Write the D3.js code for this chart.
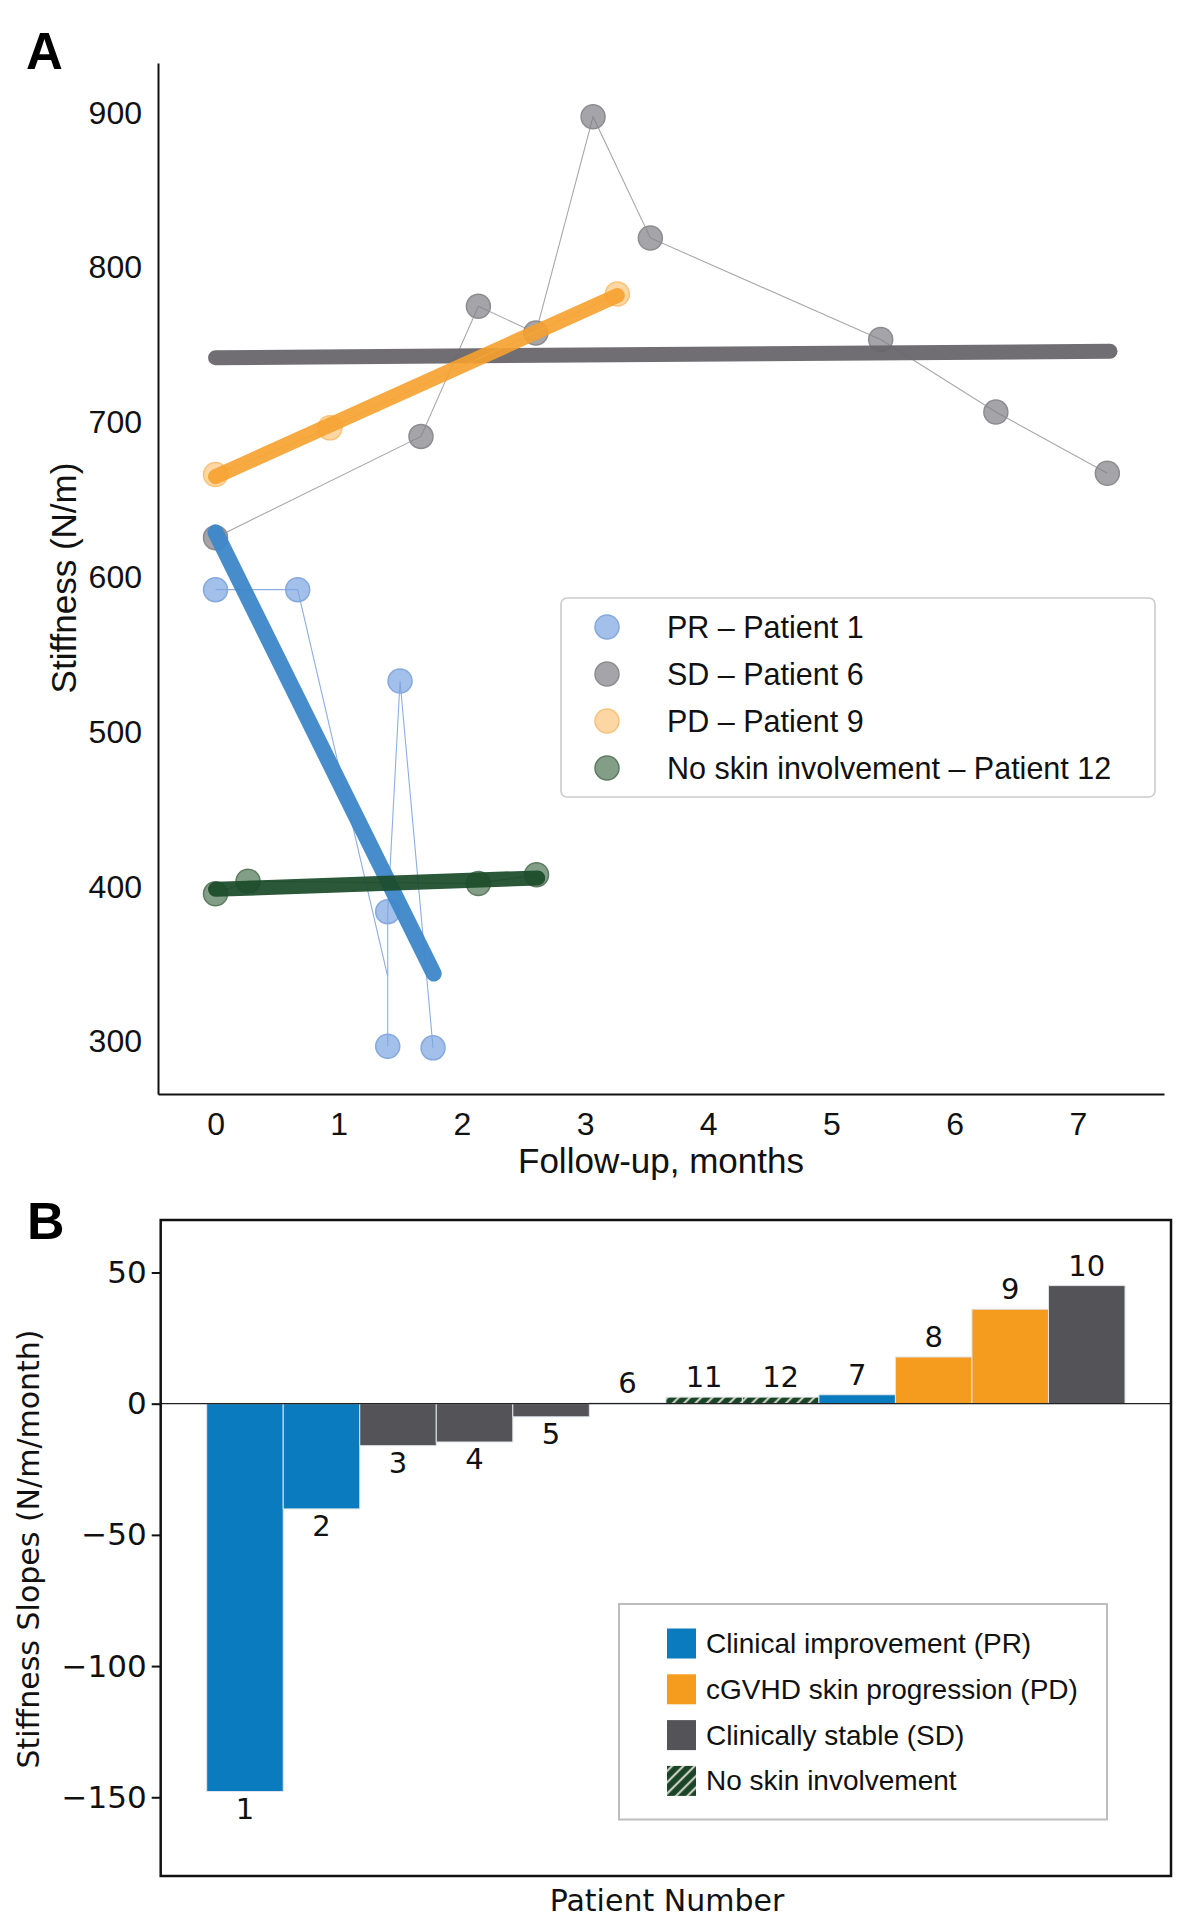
<!DOCTYPE html>
<html>
<head>
<meta charset="utf-8">
<script src="https://cdn.jsdelivr.net/npm/d3@7"></script>
<style>
  body { margin: 0; background: #fff; }
  svg { display: block; }
</style>
</head>
<body>
<div id="root"></div>
<script>
//-----------------------------------------------------------------------
// panel A data (follow-up months / stiffness N/m)

const prMonths = [0, 0.667, 1.398, 1.398, 1.498, 1.766];
const prValues = [592, 592, 297, 384, 533, 296];
// the thin PR line also passes through an unmarked reading
const prPathMonths = [0, 0.667, 1.398, 1.398, 1.398, 1.498, 1.766];
const prPathValues = [592, 592, 342, 297, 384, 533, 296];
const prFitMonths = [0, 1.771];
const prFitValues = [629, 344];

const sdMonths = [0, 1.668, 2.134, 2.6, 3.065, 3.53, 5.4, 6.335, 7.24];
const sdValues = [625.6, 691, 775, 757.8, 897.5, 819.2, 753.6, 706.7, 667.2];
const sdFitMonths = [0, 7.262];
const sdFitValues = [741.8, 746];

const pdMonths = [0, 0.929, 3.262];
const pdValues = [666.4, 696.5, 783];
const pdFitMonths = [0, 3.262];
const pdFitValues = [665, 782];

const nsMonths = [0, 0.264, 2.134, 2.606];
const nsValues = [395.5, 403.7, 402.2, 407.9];
const nsFitMonths = [0, 2.616];
const nsFitValues = [398.4, 405.8];

const yTicksA = [300, 400, 500, 600, 700, 800, 900];
const xTicksA = [0, 1, 2, 3, 4, 5, 6, 7];
const legendA = ['PR \u2013 Patient 1', 'SD \u2013 Patient 6', 'PD \u2013 Patient 9', 'No skin involvement \u2013 Patient 12'];

//-----------------------------------------------------------------------
// panel B data (slopes N/m/month)

const patients = ['1', '2', '3', '4', '5', '6', '11', '12', '7', '8', '9', '10'];
const slopes = [-147.8, -40.1, -16.0, -14.6, -5.0, 0.3, 2.5, 2.5, 3.4, 17.8, 36.0, 45.0];
const groups = ['PR', 'PR', 'SD', 'SD', 'SD', 'SD', 'NS', 'NS', 'PR', 'PD', 'PD', 'SD'];
const yTicksB = [-150, -100, -50, 0, 50];
const legendBGroups = ['PR', 'PD', 'SD', 'NS'];
const legendB = ['Clinical improvement (PR)', 'cGVHD skin progression (PD)', 'Clinically stable (SD)', 'No skin involvement'];

//-----------------------------------------------------------------------

const arial = "'Liberation Sans', Arial, Helvetica, sans-serif";
const dejavu = "'DejaVu Sans', sans-serif";

const barColor = { PR: '#0a7bbf', PD: '#f59c1f', SD: '#545358', NS: 'url(#hatch)' };

const svg = d3
  .select('#root')
  .append('svg')
  .attr('width', 1194)
  .attr('height', 1920);

const defs = svg.append('defs');
const hatch = defs.append('pattern')
  .attr('id', 'hatch')
  .attr('patternUnits', 'userSpaceOnUse')
  .attr('width', 8)
  .attr('height', 8)
  .attr('patternTransform', 'rotate(45)');
hatch.append('rect')
  .attr('width', 8)
  .attr('height', 8)
  .attr('fill', '#1a4427');
hatch.append('line')
  .attr('x1', 4).attr('y1', 0)
  .attr('x2', 4).attr('y2', 8)
  .attr('stroke', '#c9ccbf')
  .attr('stroke-width', 2.2);

//-----------------------------------------------------------------------
// PANEL A

const ax = { left: 158, right: 1164, top: 63, bottom: 1094 };

const xA = d3.scaleLinear()
  .domain([-0.467, 7.70])
  .range([ax.left, ax.right]);
const yA = d3.scaleLinear()
  .domain([266.2, 932.2])
  .range([ax.bottom, ax.top]);

svg.append('text')
  .attr('x', 26)
  .attr('y', 69)
  .attr('font-family', arial)
  .attr('font-weight', 'bold')
  .attr('font-size', 51)
  .text('A');

const yAxisA = svg.append('g')
  .attr('transform', `translate(${ax.left}, 0)`)
  .call(d3.axisLeft(yA).tickValues(yTicksA).tickSize(0).tickSizeOuter(0).tickPadding(16));
const xAxisA = svg.append('g')
  .attr('transform', `translate(0, ${ax.bottom})`)
  .call(d3.axisBottom(xA).tickValues(xTicksA).tickSize(0).tickSizeOuter(0).tickPadding(18));

[yAxisA, xAxisA].forEach((g) => {
  g.attr('font-family', arial).attr('font-size', 32);
  g.selectAll('text').attr('fill', '#111');
  g.select('.domain').attr('stroke', '#111').attr('stroke-width', 2);
});

svg.append('text')
  .attr('transform', 'translate(63, 578) rotate(-90)')
  .attr('text-anchor', 'middle')
  .attr('dominant-baseline', 'central')
  .attr('font-family', arial)
  .attr('font-size', 35)
  .attr('fill', '#111')
  .text('Stiffness (N/m)');

svg.append('text')
  .attr('x', 661)
  .attr('y', 1160)
  .attr('text-anchor', 'middle')
  .attr('dominant-baseline', 'central')
  .attr('font-family', arial)
  .attr('font-size', 35)
  .attr('fill', '#111')
  .text('Follow-up, months');

const lineA = d3.line()
  .x((d) => xA(d[0]))
  .y((d) => yA(d[1]));

const plotA = svg.append('g');

function drawPatient(pathM, pathV, ptM, ptV, fitM, fitV, st) {
  plotA.append('path')
    .datum(pathM.map((m, i) => [m, pathV[i]]))
    .attr('d', lineA)
    .attr('fill', 'none')
    .attr('stroke', st.thin)
    .attr('stroke-width', 1.1);
  plotA.append('g')
    .selectAll('circle')
    .data(ptM.map((m, i) => [m, ptV[i]]))
    .enter()
    .append('circle')
    .attr('cx', (d) => xA(d[0]))
    .attr('cy', (d) => yA(d[1]))
    .attr('r', 12)
    .attr('fill', st.point)
    .attr('fill-opacity', 0.7)
    .attr('stroke', st.edge)
    .attr('stroke-width', 1.5);
  plotA.append('path')
    .datum(fitM.map((m, i) => [m, fitV[i]]))
    .attr('d', lineA)
    .attr('fill', 'none')
    .attr('stroke', st.fit)
    .attr('stroke-opacity', st.fitOp)
    .attr('stroke-width', st.w)
    .attr('stroke-linecap', 'round');
}

const stSD = { thin: '#a8a8a8', point: '#7f7e83', edge: '#8d8c90', fit: '#68666b', fitOp: 0.95, w: 15 };
const stPD = { thin: '#f8c98a', point: '#fcc67c', edge: '#f9c27a', fit: '#f6a12e', fitOp: 0.9, w: 15 };
const stPR = { thin: '#8eaee0', point: '#7aa5e0', edge: '#85a9dd', fit: '#3d87c9', fitOp: 0.95, w: 16 };
const stNS = { thin: '#6d8a70', point: '#4f7553', edge: '#5e7c61', fit: '#1b4b2a', fitOp: 0.93, w: 15 };

drawPatient(sdMonths, sdValues, sdMonths, sdValues, sdFitMonths, sdFitValues, stSD);
drawPatient(pdMonths, pdValues, pdMonths, pdValues, pdFitMonths, pdFitValues, stPD);
drawPatient(prPathMonths, prPathValues, prMonths, prValues, prFitMonths, prFitValues, stPR);
drawPatient(nsMonths, nsValues, nsMonths, nsValues, nsFitMonths, nsFitValues, stNS);

// legend A
const legA = svg.append('g');
legA.append('rect')
  .attr('x', 561)
  .attr('y', 598)
  .attr('width', 594)
  .attr('height', 199)
  .attr('rx', 6)
  .attr('fill', '#fff')
  .attr('stroke', '#cbcbcb')
  .attr('stroke-width', 1.6);
const legAStyles = [stPR, stSD, stPD, stNS];
legendA.forEach((t, i) => {
  const cy = 627 + i * 47;
  legA.append('circle')
    .attr('cx', 607)
    .attr('cy', cy)
    .attr('r', 12)
    .attr('fill', legAStyles[i].point)
    .attr('fill-opacity', 0.7)
    .attr('stroke', legAStyles[i].edge)
    .attr('stroke-width', 1.5);
  legA.append('text')
    .attr('x', 667)
    .attr('y', cy)
    .attr('dominant-baseline', 'central')
    .attr('font-family', arial)
    .attr('font-size', 30.5)
    .attr('fill', '#111')
    .text(t);
});

//-----------------------------------------------------------------------
// PANEL B

const bx = { left: 160.7, right: 1171, top: 1220, bottom: 1876 };

const xB = d3.scaleBand()
  .domain(patients)
  .range([bx.left, bx.right])
  .paddingInner(0)
  .paddingOuter(0.601);
const yB = d3.scaleLinear()
  .domain([-180, 70])
  .range([bx.bottom, bx.top]);

svg.append('text')
  .attr('x', 27)
  .attr('y', 1239)
  .attr('font-family', arial)
  .attr('font-weight', 'bold')
  .attr('font-size', 52)
  .text('B');

const yAxisB = svg.append('g')
  .attr('transform', `translate(${bx.left}, 0)`)
  .call(d3.axisLeft(yB).tickValues(yTicksB).tickSize(9).tickSizeOuter(0).tickPadding(5));
yAxisB.attr('font-family', dejavu).attr('font-size', 31);
yAxisB.select('.domain').remove();
yAxisB.selectAll('.tick line').attr('stroke', '#111').attr('stroke-width', 2);
yAxisB.selectAll('text').attr('fill', '#111');

const bars = svg.append('g')
  .selectAll('rect')
  .data(patients)
  .enter()
  .append('rect')
  .attr('x', (d) => xB(d))
  .attr('width', xB.bandwidth())
  .attr('y', (d, i) => yB(Math.max(0, slopes[i])))
  .attr('height', (d, i) => Math.abs(yB(slopes[i]) - yB(0)))
  .attr('fill', (d, i) => barColor[groups[i]])
  .attr('stroke', '#dfe4ea')
  .attr('stroke-width', 1);

svg.append('line')
  .attr('x1', bx.left)
  .attr('x2', bx.right)
  .attr('y1', yB(0))
  .attr('y2', yB(0))
  .attr('stroke', '#222')
  .attr('stroke-width', 1.2);

svg.append('g')
  .selectAll('text')
  .data(patients)
  .enter()
  .append('text')
  .attr('x', (d) => xB(d) + xB.bandwidth() / 2)
  .attr('y', (d, i) => slopes[i] >= 0 ? yB(slopes[i]) - 20 : yB(slopes[i]) + 17)
  .attr('text-anchor', 'middle')
  .attr('dominant-baseline', 'central')
  .attr('font-family', dejavu)
  .attr('font-size', 29)
  .attr('fill', '#111')
  .text((d) => d);

svg.append('rect')
  .attr('x', bx.left)
  .attr('y', bx.top)
  .attr('width', bx.right - bx.left)
  .attr('height', bx.bottom - bx.top)
  .attr('fill', 'none')
  .attr('stroke', '#111')
  .attr('stroke-width', 2.5);

svg.append('text')
  .attr('transform', 'translate(28, 1549) rotate(-90)')
  .attr('text-anchor', 'middle')
  .attr('dominant-baseline', 'central')
  .attr('font-family', dejavu)
  .attr('font-size', 30)
  .attr('fill', '#111')
  .text('Stiffness Slopes (N/m/month)');

svg.append('text')
  .attr('x', 667)
  .attr('y', 1900)
  .attr('text-anchor', 'middle')
  .attr('dominant-baseline', 'central')
  .attr('font-family', dejavu)
  .attr('font-size', 30)
  .attr('fill', '#111')
  .text('Patient Number');

// legend B
const legB = svg.append('g');
legB.append('rect')
  .attr('x', 619)
  .attr('y', 1604)
  .attr('width', 488)
  .attr('height', 215.5)
  .attr('fill', '#fff')
  .attr('stroke', '#bdbdbd')
  .attr('stroke-width', 2);
legendB.forEach((t, i) => {
  const cy = 1643.5 + i * 45.8;
  legB.append('rect')
    .attr('x', 667)
    .attr('y', cy - 15)
    .attr('width', 29)
    .attr('height', 30)
    .attr('fill', barColor[legendBGroups[i]]);
  legB.append('text')
    .attr('x', 706)
    .attr('y', cy)
    .attr('dominant-baseline', 'central')
    .attr('font-family', arial)
    .attr('font-size', 28)
    .attr('fill', '#111')
    .text(t);
});
</script>
</body>
</html>
